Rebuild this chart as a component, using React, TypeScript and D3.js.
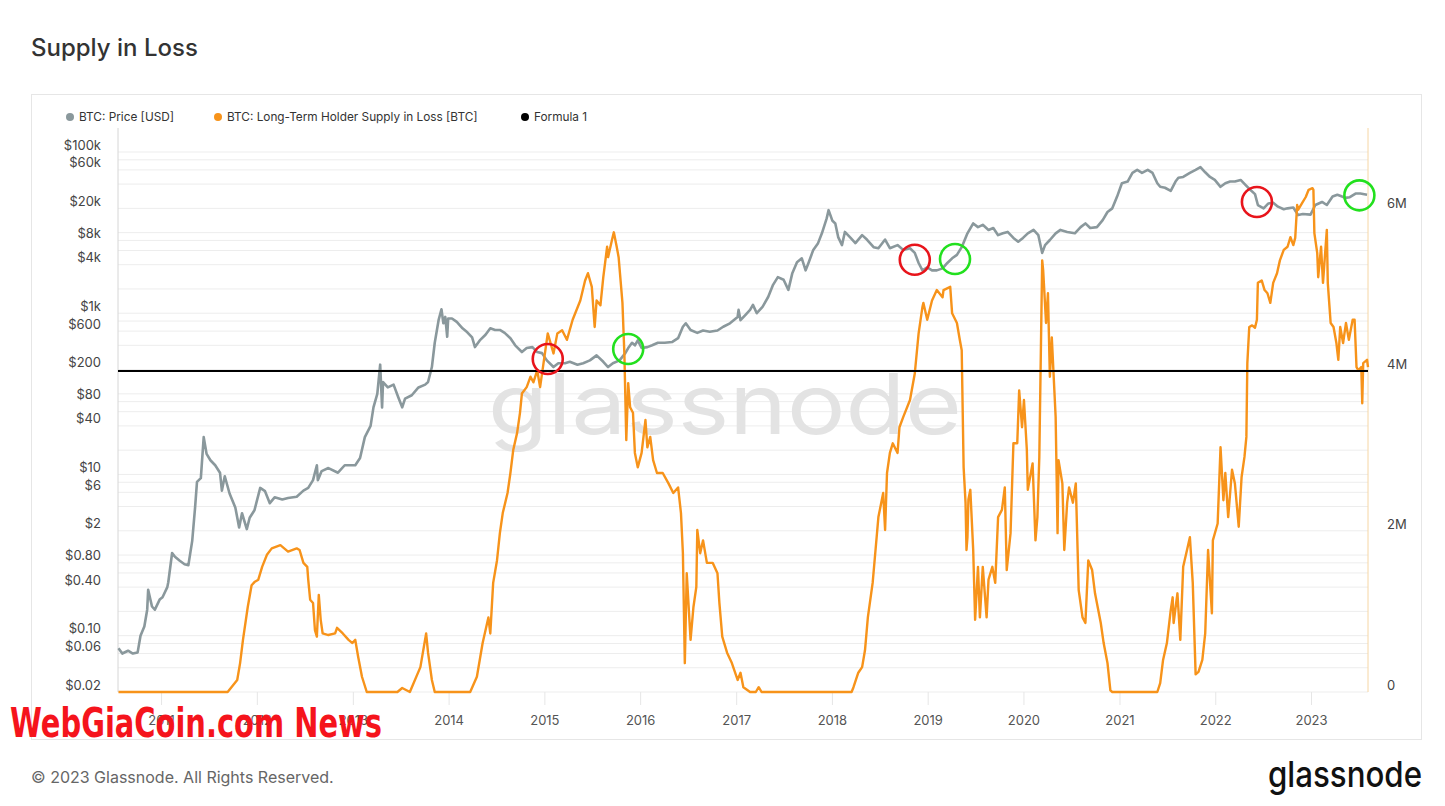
// Supply in Loss - BTC price vs Long-Term Holder supply in loss
import React, { useEffect, useRef } from 'react';
import * as d3 from 'd3';

// BTC price [decimal year, USD]
const priceData: [number, number][] = [
  [2010.55, 0.07], [2010.59, 0.06], [2010.65, 0.065], [2010.70, 0.06], [2010.75, 0.062],
  [2010.78, 0.1], [2010.82, 0.13], [2010.85, 0.21], [2010.86, 0.37], [2010.90, 0.23],
  [2010.93, 0.21], [2010.98, 0.28], [2011.01, 0.3], [2011.06, 0.4], [2011.07, 0.46],
  [2011.11, 1.06], [2011.14, 0.95], [2011.19, 0.85], [2011.24, 0.77], [2011.28, 0.75],
  [2011.32, 1.5], [2011.35, 3.9], [2011.37, 8.1], [2011.41, 9], [2011.44, 29],
  [2011.47, 18], [2011.51, 15], [2011.56, 13], [2011.61, 10.5], [2011.63, 6.3],
  [2011.66, 9.5], [2011.71, 5.8], [2011.77, 3.9], [2011.81, 2.2], [2011.84, 3.3],
  [2011.89, 2.1], [2011.92, 2.9], [2011.97, 3.6], [2012.03, 6.8], [2012.08, 6.2],
  [2012.13, 4.4], [2012.18, 5.2], [2012.26, 4.9], [2012.32, 5.1], [2012.41, 5.3],
  [2012.48, 6.3], [2012.53, 6.8], [2012.58, 8.5], [2012.62, 13], [2012.63, 8.5],
  [2012.67, 11], [2012.74, 12], [2012.84, 10.5], [2012.91, 13], [2013.02, 13],
  [2013.07, 16], [2013.12, 29], [2013.18, 40], [2013.21, 68], [2013.25, 100],
  [2013.28, 230], [2013.30, 68], [2013.31, 140], [2013.36, 120], [2013.42, 130],
  [2013.47, 90], [2013.51, 68], [2013.54, 87], [2013.61, 96], [2013.68, 120],
  [2013.75, 130], [2013.78, 140], [2013.82, 215], [2013.85, 430], [2013.89, 820],
  [2013.92, 1120], [2013.94, 750], [2013.96, 900], [2013.98, 510], [2013.99, 860],
  [2014.03, 860], [2014.08, 780], [2014.14, 650], [2014.19, 580], [2014.24, 500],
  [2014.27, 380], [2014.32, 460], [2014.38, 540], [2014.43, 650], [2014.48, 620],
  [2014.53, 620], [2014.58, 570], [2014.64, 490], [2014.69, 400], [2014.76, 330],
  [2014.81, 370], [2014.87, 380], [2014.92, 330], [2014.97, 320], [2015.02, 260],
  [2015.09, 215], [2015.14, 240], [2015.21, 240], [2015.26, 250], [2015.34, 230],
  [2015.40, 240], [2015.47, 260], [2015.54, 300], [2015.61, 250], [2015.66, 215],
  [2015.71, 240], [2015.78, 260], [2015.84, 320], [2015.87, 370], [2015.91, 430],
  [2015.94, 400], [2015.97, 460], [2016.01, 370], [2016.07, 380], [2016.12, 400],
  [2016.18, 430], [2016.25, 430], [2016.33, 440], [2016.39, 490], [2016.44, 680],
  [2016.47, 750], [2016.52, 620], [2016.59, 570], [2016.65, 610], [2016.72, 590],
  [2016.80, 610], [2016.86, 680], [2016.93, 750], [2017.01, 900], [2017.02, 1100],
  [2017.04, 820], [2017.09, 950], [2017.14, 1100], [2017.17, 1270], [2017.21, 1000],
  [2017.27, 1200], [2017.33, 1600], [2017.38, 2250], [2017.43, 2800], [2017.49, 2600],
  [2017.54, 1950], [2017.58, 3100], [2017.63, 4300], [2017.68, 4800], [2017.72, 3400],
  [2017.75, 4200], [2017.80, 6100], [2017.85, 7400], [2017.89, 9800], [2017.94, 15000],
  [2017.96, 19000], [2018.00, 14000], [2018.03, 13000], [2018.06, 8800], [2018.10, 7000],
  [2018.13, 10200], [2018.19, 8600], [2018.24, 7400], [2018.31, 9300], [2018.36, 8200],
  [2018.43, 6600], [2018.48, 6400], [2018.55, 8200], [2018.60, 6400], [2018.68, 7000],
  [2018.74, 6100], [2018.81, 6400], [2018.86, 5600], [2018.90, 4200], [2018.94, 3400],
  [2018.99, 3700], [2019.04, 3400], [2019.09, 3400], [2019.15, 3600], [2019.20, 4200],
  [2019.25, 4800], [2019.30, 5300], [2019.35, 6600], [2019.41, 9800], [2019.47, 13000],
  [2019.52, 11700], [2019.57, 12500], [2019.63, 10800], [2019.68, 11400], [2019.73, 9300],
  [2019.78, 9800], [2019.83, 10200], [2019.89, 8600], [2019.94, 7700], [2019.99, 8600],
  [2020.04, 9800], [2020.10, 10800], [2020.15, 9300], [2020.19, 5600], [2020.22, 7000],
  [2020.27, 8100], [2020.33, 9800], [2020.38, 10800], [2020.45, 10200], [2020.53, 9800],
  [2020.59, 11700], [2020.64, 13000], [2020.69, 11400], [2020.76, 11700], [2020.82, 14300],
  [2020.87, 18000], [2020.92, 20000], [2020.97, 28000], [2021.02, 41000], [2021.08, 43000],
  [2021.13, 55000], [2021.18, 60000], [2021.23, 55000], [2021.29, 60000], [2021.34, 55000],
  [2021.39, 41000], [2021.42, 37000], [2021.47, 36000], [2021.53, 33000], [2021.58, 43000],
  [2021.61, 48000], [2021.66, 49000], [2021.73, 55000], [2021.79, 60000], [2021.84, 65000],
  [2021.89, 56000], [2021.94, 49000], [2021.99, 45000], [2022.05, 37000], [2022.10, 41000],
  [2022.15, 43000], [2022.20, 43000], [2022.26, 45000], [2022.31, 39000], [2022.36, 34000],
  [2022.41, 30000], [2022.44, 22000], [2022.50, 20000], [2022.55, 23000], [2022.60, 23500],
  [2022.65, 21000], [2022.71, 19500], [2022.75, 20000], [2022.81, 20500], [2022.86, 16500],
  [2022.91, 17000], [2022.99, 16700], [2023.04, 22000], [2023.11, 24000], [2023.16, 22000],
  [2023.22, 28000], [2023.27, 29500], [2023.32, 28000], [2023.35, 27000], [2023.40, 27500],
  [2023.46, 30500], [2023.51, 30500], [2023.58, 29500]
];

// LTH supply in loss [decimal year, million BTC]
const lthLossData: [number, number][] = [
  [2010.55, 0], [2011.69, 0], [2011.79, 0.15], [2011.82, 0.36], [2011.85, 0.65],
  [2011.90, 1.06], [2011.94, 1.33], [2011.97, 1.37], [2012.01, 1.40], [2012.05, 1.56],
  [2012.10, 1.71], [2012.15, 1.79], [2012.24, 1.83], [2012.32, 1.75], [2012.41, 1.79],
  [2012.44, 1.77], [2012.48, 1.61], [2012.52, 1.56], [2012.53, 1.40], [2012.55, 1.15],
  [2012.58, 1.11], [2012.60, 0.77], [2012.62, 0.69], [2012.64, 1.21], [2012.66, 0.90],
  [2012.68, 0.73], [2012.74, 0.71], [2012.81, 0.73], [2012.83, 0.80], [2012.89, 0.73],
  [2012.95, 0.65], [2012.99, 0.61], [2013.02, 0.65], [2013.05, 0.44], [2013.09, 0.19],
  [2013.14, 0], [2013.46, 0], [2013.51, 0.05], [2013.59, 0], [2013.70, 0.31],
  [2013.76, 0.73], [2013.78, 0.49], [2013.82, 0.15], [2013.85, 0], [2014.22, 0],
  [2014.29, 0.19], [2014.35, 0.61], [2014.41, 0.93], [2014.43, 0.73], [2014.46, 1.36],
  [2014.50, 1.64], [2014.53, 1.98], [2014.56, 2.23], [2014.61, 2.48], [2014.64, 2.73],
  [2014.67, 3.02], [2014.71, 3.23], [2014.74, 3.48], [2014.76, 3.72], [2014.81, 3.80],
  [2014.85, 3.93], [2014.88, 3.86], [2014.92, 4.01], [2014.95, 3.80], [2014.98, 4.05],
  [2015.03, 4.47], [2015.09, 4.22], [2015.13, 4.47], [2015.18, 4.51], [2015.23, 4.39],
  [2015.29, 4.64], [2015.37, 4.88], [2015.42, 5.13], [2015.45, 5.22], [2015.49, 5.05],
  [2015.52, 4.55], [2015.54, 4.88], [2015.58, 4.82], [2015.61, 5.17], [2015.65, 5.55],
  [2015.66, 5.42], [2015.70, 5.63], [2015.72, 5.73], [2015.75, 5.55], [2015.77, 5.42],
  [2015.81, 4.85], [2015.83, 4.22], [2015.85, 3.14], [2015.87, 3.85], [2015.89, 3.55],
  [2015.92, 3.48], [2015.94, 2.98], [2015.97, 2.80], [2016.01, 2.98], [2016.05, 3.39],
  [2016.07, 3.05], [2016.10, 3.18], [2016.13, 2.89], [2016.17, 2.73], [2016.23, 2.73],
  [2016.29, 2.60], [2016.34, 2.48], [2016.39, 2.55], [2016.42, 2.23], [2016.44, 1.73],
  [2016.46, 0.36], [2016.48, 1.48], [2016.52, 0.65], [2016.55, 1.06], [2016.58, 1.31],
  [2016.59, 2.02], [2016.62, 1.73], [2016.65, 1.89], [2016.69, 1.61], [2016.75, 1.61],
  [2016.80, 1.48], [2016.82, 1.11], [2016.85, 0.69], [2016.90, 0.49], [2016.95, 0.36],
  [2017.01, 0.15], [2017.04, 0.24], [2017.07, 0.06], [2017.14, 0], [2017.20, 0],
  [2017.23, 0.06], [2017.26, 0], [2018.20, 0], [2018.22, 0.06], [2018.27, 0.24],
  [2018.31, 0.31], [2018.34, 0.52], [2018.37, 0.93], [2018.42, 1.36], [2018.45, 1.77],
  [2018.48, 2.18], [2018.53, 2.48], [2018.55, 2.02], [2018.57, 2.73], [2018.60, 2.98],
  [2018.63, 3.10], [2018.68, 2.98], [2018.70, 3.30], [2018.74, 3.43], [2018.81, 3.64],
  [2018.86, 3.97], [2018.90, 4.47], [2018.94, 4.80], [2018.95, 4.85], [2018.99, 4.64],
  [2019.04, 4.88], [2019.09, 5.01], [2019.15, 4.92], [2019.16, 5.01], [2019.23, 5.05],
  [2019.25, 4.72], [2019.30, 4.60], [2019.33, 4.39], [2019.35, 4.26], [2019.37, 2.80],
  [2019.39, 2.36], [2019.40, 1.77], [2019.41, 1.93], [2019.42, 2.40], [2019.44, 2.52],
  [2019.47, 1.77], [2019.49, 0.90], [2019.52, 1.56], [2019.54, 0.93], [2019.57, 1.56],
  [2019.61, 0.93], [2019.63, 1.40], [2019.67, 1.56], [2019.70, 1.36], [2019.73, 2.18],
  [2019.77, 2.27], [2019.80, 2.55], [2019.82, 1.52], [2019.86, 1.98], [2019.89, 3.10],
  [2019.93, 3.10], [2019.95, 3.76], [2019.98, 3.30], [2020.00, 3.64], [2020.03, 3.02],
  [2020.04, 2.52], [2020.09, 2.85], [2020.12, 1.89], [2020.14, 2.18], [2020.16, 2.93],
  [2020.19, 5.38], [2020.20, 5.26], [2020.23, 4.60], [2020.25, 4.97], [2020.27, 3.93],
  [2020.29, 4.42], [2020.33, 3.43], [2020.35, 1.98], [2020.36, 2.89], [2020.40, 2.60],
  [2020.42, 1.77], [2020.45, 2.36], [2020.47, 2.55], [2020.51, 2.36], [2020.54, 2.60],
  [2020.57, 1.27], [2020.61, 0.93], [2020.64, 0.86], [2020.67, 1.64], [2020.71, 1.52],
  [2020.74, 1.23], [2020.80, 0.86], [2020.83, 0.61], [2020.87, 0.36], [2020.90, 0.02],
  [2020.92, 0], [2021.39, 0], [2021.42, 0.11], [2021.45, 0.40], [2021.49, 0.61],
  [2021.53, 1.02], [2021.55, 1.18], [2021.56, 0.86], [2021.60, 1.23], [2021.63, 0.65],
  [2021.66, 1.56], [2021.70, 1.77], [2021.73, 1.93], [2021.76, 1.36], [2021.79, 0.22],
  [2021.82, 0.25], [2021.86, 0.40], [2021.89, 0.73], [2021.92, 1.77], [2021.96, 0.98],
  [2021.97, 1.89], [2022.02, 2.10], [2022.05, 3.05], [2022.08, 2.39], [2022.10, 2.73],
  [2022.13, 2.18], [2022.17, 2.77], [2022.20, 2.60], [2022.24, 2.06], [2022.27, 2.68],
  [2022.30, 2.93], [2022.32, 3.18], [2022.33, 4.10], [2022.35, 4.55], [2022.38, 4.57],
  [2022.41, 4.54], [2022.43, 4.64], [2022.44, 5.10], [2022.48, 5.13], [2022.51, 5.01],
  [2022.54, 4.97], [2022.57, 4.85], [2022.60, 5.10], [2022.64, 5.22], [2022.67, 5.38],
  [2022.71, 5.51], [2022.75, 5.55], [2022.78, 5.67], [2022.81, 5.57], [2022.83, 5.66],
  [2022.85, 6.07], [2022.86, 6.01], [2022.90, 6.09], [2022.94, 6.17], [2022.97, 6.26],
  [2023.01, 6.28], [2023.02, 6.26], [2023.03, 5.72], [2023.06, 5.47], [2023.07, 5.17],
  [2023.10, 5.55], [2023.12, 5.10], [2023.16, 5.76], [2023.17, 5.10], [2023.20, 4.60],
  [2023.23, 4.55], [2023.26, 4.35], [2023.28, 4.14], [2023.30, 4.55], [2023.33, 4.35],
  [2023.36, 4.60], [2023.39, 4.39], [2023.43, 4.64], [2023.45, 4.64], [2023.47, 4.05],
  [2023.49, 4.01], [2023.52, 4.05], [2023.53, 3.60], [2023.54, 4.10], [2023.58, 4.14],
  [2023.59, 4.05]
];

// Formula 1: constant level (BTC)
const formulaValue = 4e6;

// Annotation circles on the price line [decimal year, USD, kind]
const markers: [number, number, 'sell' | 'buy'][] = [
  [2015.03, 270, 'sell'], [2015.87, 360, 'buy'],
  [2018.86, 4600, 'sell'], [2019.28, 4700, 'buy'],
  [2022.43, 24000, 'sell'], [2023.50, 29000, 'buy']
];

const yearTicks = [2011, 2012, 2013, 2014, 2015, 2016, 2017, 2018, 2019, 2020, 2021, 2022, 2023];
const priceTickLabels: [number, string][] = [
  [100000, '$100k'], [60000, '$60k'], [20000, '$20k'], [8000, '$8k'], [4000, '$4k'],
  [1000, '$1k'], [600, '$600'], [200, '$200'], [80, '$80'], [40, '$40'],
  [10, '$10'], [6, '$6'], [2, '$2'], [0.8, '$0.80'], [0.4, '$0.40'],
  [0.1, '$0.10'], [0.06, '$0.06'], [0.02, '$0.02']
];
const supplyTicks: [number, string][] = [[0, '0'], [2e6, '2M'], [4e6, '4M'], [6e6, '6M']];

const legendItems = [
  { label: 'BTC: Price [USD]', color: '#8a989c' },
  { label: 'BTC: Long-Term Holder Supply in Loss [BTC]', color: '#f7931a' },
  { label: 'Formula 1', color: '#000000' }
];

const toDate = (y: number) => {
  const yr = Math.floor(y);
  const start = Date.UTC(yr, 0, 1);
  const end = Date.UTC(yr + 1, 0, 1);
  return new Date(start + (y - yr) * (end - start));
};

const App: React.FC = () => {
  const svgRef = useRef<SVGSVGElement>(null);

  useEffect(() => {
    document.body.style.margin = '0';
    if (!svgRef.current) return;
    const svg = d3.select(svgRef.current);
    svg.selectAll('*').remove();

    const font = 'Inter, "Noto Sans", sans-serif';
    const left = 118, right = 1368, top = 128, bottom = 692;

    const x = d3.scaleUtc()
      .domain([toDate(2010.545), toDate(2023.59)])
      .range([left, right]);
    const yPrice = d3.scaleLog()
      .domain([0.02, 100000 * Math.pow(10, 24 / 80.6)])
      .range([bottom, top]);
    const ySupply = d3.scaleLinear()
      .domain([0, 7.03e6])
      .range([bottom, top]);

    // page title
    svg.append('text')
      .attr('x', 31).attr('y', 56)
      .attr('font-family', font).attr('font-size', 24)
      .attr('font-weight', 500)
      .attr('fill', '#333')
      .text('Supply in Loss');

    // chart panel
    svg.append('rect')
      .attr('x', 31.5).attr('y', 94.5)
      .attr('width', 1390).attr('height', 645)
      .attr('fill', '#fff')
      .attr('stroke', '#e6e6e6');

    // legend
    const legendX = [70, 218, 525];
    legendItems.forEach((item, i) => {
      svg.append('circle')
        .attr('cx', legendX[i]).attr('cy', 117).attr('r', 4)
        .attr('fill', item.color);
      svg.append('text')
        .attr('x', legendX[i] + 9).attr('y', 121)
        .attr('font-family', font).attr('font-size', 11.8)
        .attr('fill', '#333')
        .text(item.label);
    });

    // horizontal gridlines (log decades x 1,2,4,6,8)
    const gridVals: number[] = [];
    for (let e = -2; e <= 5; e++) {
      [1, 2, 4, 6, 8].forEach(m => {
        const v = m * Math.pow(10, e);
        if (v >= 0.02 && v <= 100000) gridVals.push(v);
      });
    }
    const grid = svg.append('g');
    gridVals.forEach(v => {
      grid.append('line')
        .attr('x1', left).attr('x2', right)
        .attr('y1', yPrice(v)).attr('y2', yPrice(v))
        .attr('stroke', '#ededed').attr('stroke-width', 1);
    });

    // year ticks below plot
    yearTicks.forEach(yr => {
      const xv = x(toDate(yr));
      svg.append('line')
        .attr('x1', xv).attr('x2', xv)
        .attr('y1', bottom).attr('y2', bottom + 13)
        .attr('stroke', '#e6e6e6');
      svg.append('text')
        .attr('x', xv).attr('y', 725)
        .attr('text-anchor', 'middle')
        .attr('font-family', font).attr('font-size', 13)
        .attr('fill', '#555')
        .text(yr);
    });

    // axis lines
    svg.append('line')
      .attr('x1', left).attr('x2', left).attr('y1', top).attr('y2', bottom)
      .attr('stroke', '#d6d6d6');
    svg.append('line')
      .attr('x1', right).attr('x2', right).attr('y1', top).attr('y2', bottom)
      .attr('stroke', '#f6d6a4');

    // left axis labels
    priceTickLabels.forEach(([v, label]) => {
      svg.append('text')
        .attr('x', 101).attr('y', yPrice(v) - 2.5)
        .attr('text-anchor', 'end')
        .attr('font-family', font).attr('font-size', 13)
        .attr('fill', '#444')
        .text(label);
    });

    // right axis labels
    supplyTicks.forEach(([v, label]) => {
      svg.append('text')
        .attr('x', 1387).attr('y', ySupply(v) - 2.5)
        .attr('font-family', font).attr('font-size', 13)
        .attr('fill', '#444')
        .text(label);
    });

    // watermark
    svg.append('text')
      .attr('x', 725).attr('y', 434)
      .attr('text-anchor', 'middle')
      .attr('font-family', font).attr('font-size', 84)
      .attr('textLength', 474).attr('lengthAdjust', 'spacingAndGlyphs')
      .attr('fill', '#e3e3e3')
      .text('glassnode');

    const plot = svg.append('g');

    const priceLine = d3.line<[number, number]>()
      .x(d => x(toDate(d[0])))
      .y(d => yPrice(d[1]));
    plot.append('path')
      .datum(priceData)
      .attr('d', priceLine)
      .attr('fill', 'none')
      .attr('stroke', '#8a989c')
      .attr('stroke-width', 2.6)
      .attr('stroke-linejoin', 'round');

    const supplyLine = d3.line<[number, number]>()
      .x(d => x(toDate(d[0])))
      .y(d => ySupply(d[1] * 1e6));
    plot.append('path')
      .datum(lthLossData)
      .attr('d', supplyLine)
      .attr('fill', 'none')
      .attr('stroke', '#f7931a')
      .attr('stroke-width', 2.4)
      .attr('stroke-linejoin', 'round');

    // Formula 1
    plot.append('line')
      .attr('x1', left).attr('x2', right)
      .attr('y1', ySupply(formulaValue)).attr('y2', ySupply(formulaValue))
      .attr('stroke', '#000').attr('stroke-width', 2);

    // annotation circles
    markers.forEach(([yr, p, kind]) => {
      plot.append('circle')
        .attr('cx', x(toDate(yr))).attr('cy', yPrice(p))
        .attr('r', 15)
        .attr('fill', 'none')
        .attr('stroke', kind === 'sell' ? '#e8141b' : '#22e01e')
        .attr('stroke-width', 2.6);
    });

    // overlay watermark (bottom-left), sits on top of the first year labels as in the source image
    svg.append('text')
      .attr('x', 10).attr('y', 737)
      .attr('font-family', '"DejaVu Sans Condensed", "Liberation Sans Narrow", sans-serif')
      .attr('font-weight', 'bold').attr('font-size', 40)
      .attr('textLength', 372).attr('lengthAdjust', 'spacingAndGlyphs')
      .attr('fill', '#f5141c')
      .text('WebGiaCoin.com News');

    // footer
    svg.append('text')
      .attr('x', 31).attr('y', 783)
      .attr('font-family', font).attr('font-size', 16)
      .attr('fill', '#666')
      .text('© 2023 Glassnode. All Rights Reserved.');
    svg.append('text')
      .attr('x', 1268).attr('y', 787)
      .attr('font-family', font).attr('font-size', 36)
      .attr('font-weight', 500)
      .attr('textLength', 154).attr('lengthAdjust', 'spacingAndGlyphs')
      .attr('fill', '#111')
      .text('glassnode');
  }, []);

  return (
    <svg
      ref={svgRef}
      width={1445}
      height={806}
      style={{ display: 'block', background: '#fff' }}
    />
  );
};

export default App;
